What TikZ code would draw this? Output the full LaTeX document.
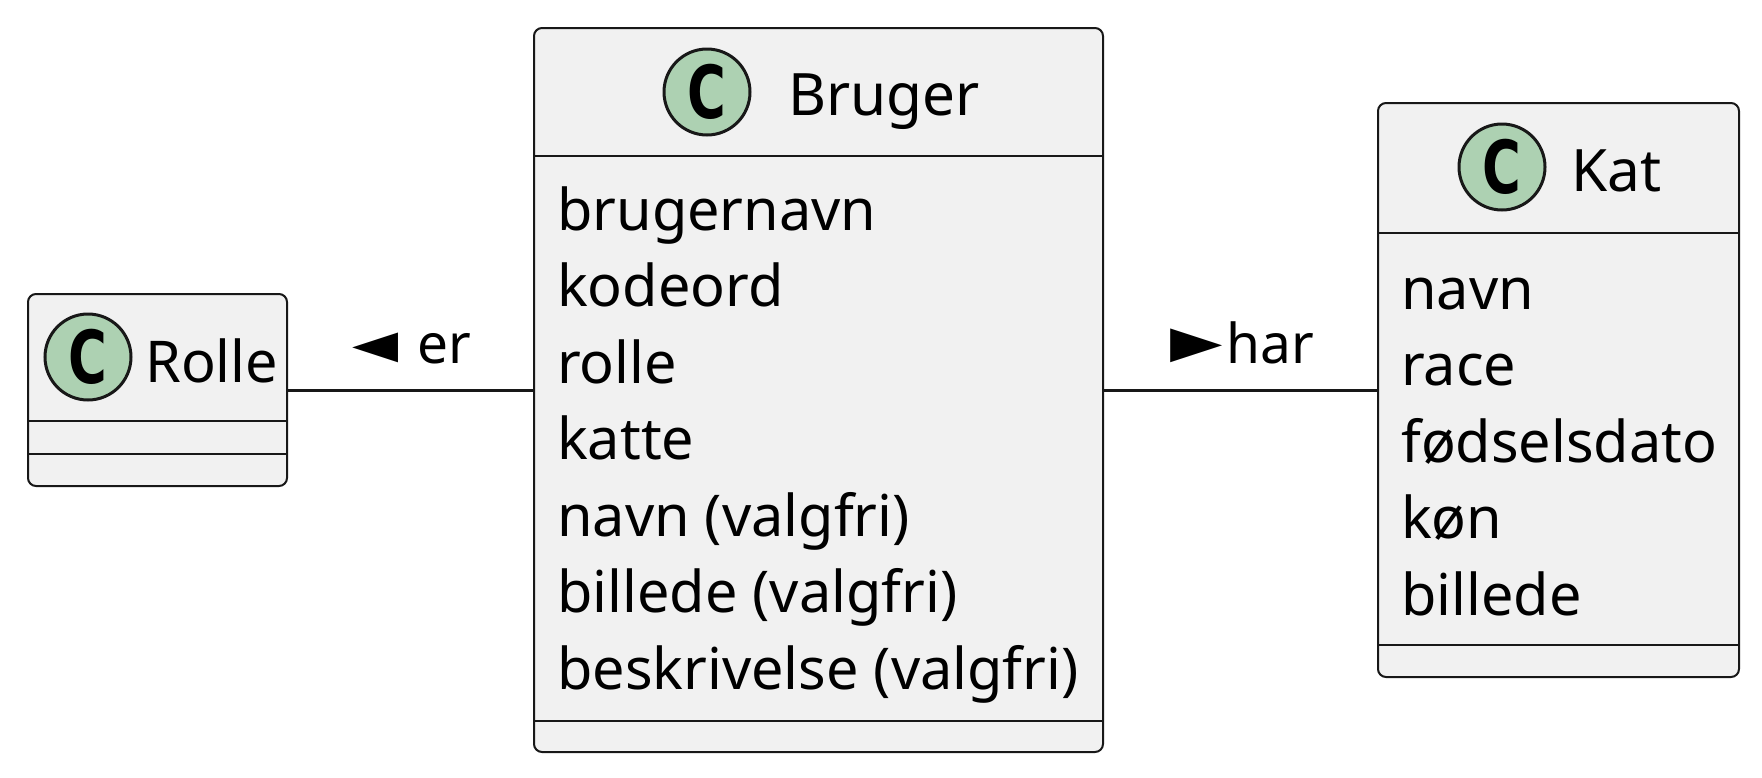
\documentclass[tikz,border=0pt]{standalone}
\usepackage{fontspec}
\setmainfont{Noto Sans}
\newfontfamily\trifont{DejaVu Sans}
\newfontfamily\spotfont{DejaVu Sans}
\usetikzlibrary{positioning}

\definecolor{linec}{HTML}{181818}
\definecolor{boxc}{HTML}{F1F1F1}
\definecolor{spotc}{HTML}{ADD1B2}

\newcommand{\spotc}{\scalebox{0.88}[1.22]{C}}

\begin{document}
\begin{tikzpicture}[x=1pt,y=-1pt,
	classbox/.style={draw=linec,fill=boxc,rounded corners=8pt,line width=2pt,inner sep=0pt},
	spot/.style={circle,draw=linec,fill=spotc,line width=3pt,inner sep=0pt,minimum size=86pt,font=\spotfont\bfseries\fontsize{60}{60}\selectfont},
	txt/.style={anchor=base west,inner sep=0pt,font=\fontsize{57.6}{76}\selectfont},
	rule/.style={draw=linec,line width=2pt},
	assoc/.style={draw=linec,line width=3pt}]
			\fill[white] (0,0) rectangle (1762,777);
			\useasboundingbox (0,0) rectangle (1762,777);

			% Rolle
			\node[classbox,minimum width=259pt,minimum height=192pt] (rolle) at (157.5,390) {};
			\node[spot] (rollespot) at (88,357) {\spotc};
			\node[txt] (rolletitle) at (145,382) {Rolle};
			\draw[rule] (rolle.west |- 0,421) -- (rolle.east |- 0,421);
			\draw[rule] (rolle.west |- 0,454) -- (rolle.east |- 0,454);

			% Bruger
			\node[classbox,minimum width=569pt,minimum height=724pt] (bruger) at (818.5,390) {};
			\node[spot] (brugerspot) at (707,92) {\spotc};
			\node[txt,font=\fontsize{58.5}{76}\selectfont] (brugertitle) at (788,115) {Bruger};
			\draw[rule] (bruger.west |- 0,156) -- (bruger.east |- 0,156);
			\foreach \t [count=\i] in {brugernavn,kodeord,rolle,katte,navn (valgfri),billede (valgfri),beskrivelse (valgfri)}
				\node[txt] (b\i) at (557,153.5+76.5*\i) {\t};
			\draw[rule] (bruger.west |- 0,721) -- (bruger.east |- 0,721);

			% Kat
			\node[classbox,minimum width=361pt,minimum height=574pt] (kat) at (1558.5,390) {};
			\node[spot] (katspot) at (1502,167) {\spotc};
			\node[txt,font=\fontsize{58.5}{76}\selectfont] (kattitle) at (1571,191) {Kat};
			\draw[rule] (kat.west |- 0,233) -- (kat.east |- 0,233);
			\foreach \t [count=\i] in {navn,race,fødselsdato,køn,billede}
				\node[txt] (k\i) at (1401,232.5+76.5*\i) {\t};
			\draw[rule] (kat.west |- 0,645) -- (kat.east |- 0,645);

			% links
			\draw[assoc] (rolle.east) -- (bruger.west);
			\draw[assoc] (bruger.east) -- (kat.west);
			\node[txt,font=\fontsize{55}{60}\selectfont] (er) at (352,363) {{\trifont\fontsize{60}{60}\selectfont ◄}\hspace{19pt}er};
			\node[txt,font=\fontsize{55}{60}\selectfont] (har) at (1170,363) {{\trifont\fontsize{68}{60}\selectfont ►}\hspace{4pt}har};

		\end{tikzpicture}
\end{document}
